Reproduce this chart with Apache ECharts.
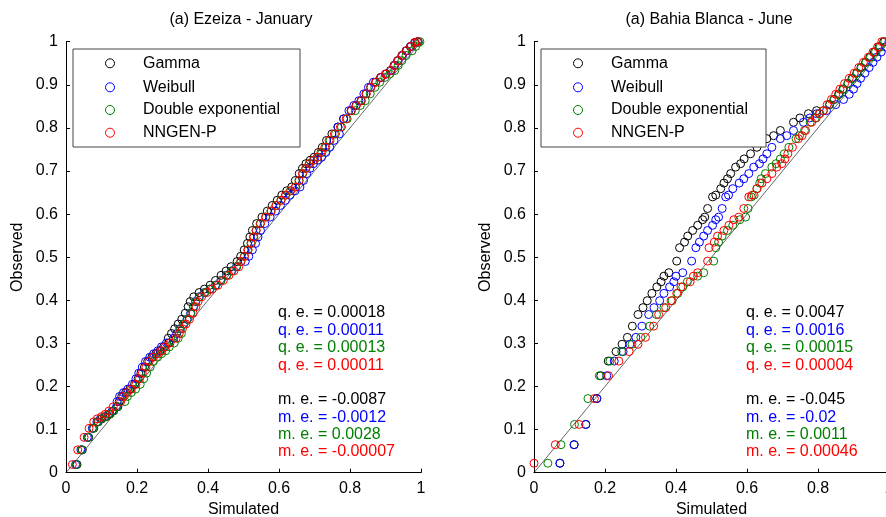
<!DOCTYPE html>
<html><head><meta charset="utf-8">
<script src="https://cdn.jsdelivr.net/npm/echarts@6/dist/echarts.min.js"></script>
<style>html,body{margin:0;padding:0;background:#fff}#c{width:886px;height:517px}</style>
</head><body><div id="c"></div>
<script>
const seriesNames = ['Gamma', 'Weibull', 'Double exponential', 'NNGEN-P'];
const seriesColors = ['#000000', '#0000ff', '#008000', '#ff0000'];
const panelTitles = ['(a) Ezeiza - January', '(a) Bahia Blanca - June'];
const xTickLabels = ['0', '0.2', '0.4', '0.6', '0.8', '1'];
const yTickLabels = ['0', '0.1', '0.2', '0.3', '0.4', '0.5', '0.6', '0.7', '0.8', '0.9', '1'];

// Panel 1: Ezeiza - January (observed quantiles shared, simulated per model)
const ezeizaObserved = [0.019,0.053,0.082,0.103,0.118,0.125,0.130,0.136,0.143,0.153,0.165,0.177,0.186,0.194,0.205,0.218,0.231,0.245,0.258,0.268,0.276,0.283,0.292,0.301,0.312,0.323,0.334,0.345,0.356,0.370,0.385,0.397,0.408,0.418,0.426,0.435,0.446,0.458,0.468,0.478,0.490,0.502,0.517,0.532,0.547,0.562,0.578,0.593,0.607,0.620,0.632,0.644,0.654,0.663,0.678,0.694,0.706,0.717,0.725,0.732,0.743,0.755,0.771,0.786,0.802,0.821,0.840,0.852,0.863,0.879,0.894,0.906,0.917,0.925,0.933,0.945,0.956,0.968,0.979,0.989,0.998,1.000];
const ezeizaGamma = [0.031,0.046,0.064,0.078,0.091,0.101,0.113,0.124,0.134,0.146,0.150,0.157,0.168,0.180,0.193,0.203,0.211,0.221,0.230,0.242,0.253,0.265,0.275,0.289,0.288,0.297,0.306,0.316,0.326,0.336,0.344,0.350,0.360,0.375,0.390,0.406,0.421,0.437,0.451,0.465,0.482,0.492,0.502,0.511,0.518,0.525,0.537,0.552,0.567,0.581,0.595,0.608,0.622,0.636,0.646,0.657,0.666,0.676,0.688,0.699,0.711,0.722,0.734,0.749,0.766,0.782,0.803,0.817,0.831,0.845,0.858,0.872,0.886,0.900,0.914,0.924,0.934,0.946,0.958,0.970,0.982,0.990];
const ezeizaWeibull = [0.027,0.042,0.060,0.074,0.087,0.097,0.109,0.120,0.130,0.142,0.144,0.151,0.162,0.174,0.187,0.197,0.205,0.215,0.224,0.236,0.247,0.259,0.269,0.283,0.303,0.312,0.321,0.331,0.341,0.351,0.359,0.365,0.375,0.390,0.405,0.421,0.436,0.452,0.466,0.480,0.505,0.515,0.525,0.534,0.541,0.548,0.560,0.575,0.590,0.604,0.618,0.631,0.645,0.659,0.669,0.678,0.687,0.697,0.709,0.720,0.732,0.743,0.755,0.770,0.766,0.782,0.797,0.811,0.825,0.839,0.852,0.866,0.888,0.902,0.916,0.926,0.936,0.948,0.960,0.972,0.984,0.992];
const ezeizaDouble = [0.029,0.044,0.062,0.076,0.089,0.099,0.111,0.122,0.132,0.144,0.166,0.173,0.184,0.196,0.209,0.219,0.227,0.237,0.246,0.258,0.269,0.281,0.291,0.305,0.316,0.325,0.322,0.332,0.342,0.352,0.360,0.366,0.376,0.391,0.406,0.422,0.437,0.453,0.467,0.481,0.492,0.502,0.512,0.521,0.528,0.535,0.547,0.562,0.577,0.591,0.605,0.618,0.632,0.646,0.656,0.667,0.676,0.686,0.698,0.709,0.721,0.732,0.744,0.759,0.776,0.792,0.815,0.829,0.843,0.857,0.870,0.884,0.898,0.912,0.926,0.936,0.946,0.958,0.975,0.985,0.993,0.997];
const ezeizaNngen = [0.018,0.033,0.051,0.065,0.078,0.088,0.100,0.111,0.121,0.133,0.154,0.161,0.172,0.184,0.197,0.207,0.215,0.225,0.234,0.246,0.257,0.269,0.279,0.293,0.310,0.319,0.328,0.338,0.348,0.358,0.366,0.372,0.382,0.397,0.412,0.428,0.443,0.459,0.473,0.487,0.493,0.503,0.513,0.522,0.529,0.536,0.548,0.563,0.578,0.592,0.606,0.619,0.633,0.647,0.657,0.666,0.675,0.685,0.697,0.708,0.718,0.729,0.741,0.756,0.773,0.789,0.804,0.818,0.832,0.846,0.859,0.873,0.887,0.901,0.915,0.925,0.935,0.947,0.959,0.971,0.983,0.991];
const ezeizaQE = ['0.00018', '0.00011', '0.00013', '0.00011'];
const ezeizaME = ['-0.0087', '-0.0012', '0.0028', '-0.00007'];

// Panel 2: Bahia Blanca - June
const bahiaObserved = [0.022,0.065,0.112,0.172,0.225,0.259,0.281,0.298,0.314,0.340,0.367,0.383,0.399,0.416,0.431,0.443,0.456,0.464,0.491,0.522,0.535,0.549,0.562,0.574,0.587,0.593,0.613,0.640,0.644,0.659,0.672,0.682,0.694,0.709,0.717,0.728,0.740,0.755,0.775,0.782,0.794,0.813,0.823,0.833,0.840,0.854,0.866,0.878,0.890,0.903,0.915,0.927,0.940,0.952,0.964,0.976,0.988,1.000];
const bahiaGamma = [0.073,0.113,0.146,0.177,0.188,0.209,0.231,0.248,0.263,0.277,0.293,0.307,0.319,0.332,0.346,0.358,0.366,0.380,0.402,0.410,0.424,0.433,0.447,0.461,0.475,0.481,0.489,0.503,0.512,0.526,0.535,0.545,0.554,0.568,0.582,0.592,0.610,0.628,0.656,0.675,0.694,0.731,0.749,0.773,0.796,0.833,0.845,0.858,0.870,0.884,0.896,0.909,0.921,0.934,0.946,0.959,0.972,0.985];
const bahiaWeibull = [0.073,0.113,0.146,0.177,0.205,0.226,0.251,0.270,0.287,0.304,0.323,0.338,0.354,0.366,0.382,0.394,0.400,0.419,0.444,0.456,0.466,0.478,0.489,0.503,0.512,0.520,0.530,0.540,0.548,0.560,0.578,0.591,0.605,0.619,0.635,0.645,0.656,0.670,0.694,0.712,0.731,0.759,0.777,0.796,0.824,0.850,0.872,0.888,0.900,0.910,0.920,0.932,0.944,0.955,0.966,0.978,0.990,1.000];
const bahiaDouble = [0.039,0.076,0.114,0.152,0.184,0.214,0.247,0.276,0.301,0.326,0.345,0.366,0.389,0.405,0.419,0.432,0.461,0.478,0.506,0.512,0.520,0.530,0.545,0.560,0.580,0.596,0.603,0.612,0.620,0.628,0.636,0.640,0.652,0.670,0.682,0.694,0.705,0.718,0.738,0.748,0.762,0.778,0.792,0.803,0.815,0.832,0.846,0.860,0.872,0.885,0.898,0.910,0.922,0.935,0.948,0.962,0.975,0.988];
const bahiaNngen = [0.000,0.060,0.127,0.170,0.210,0.239,0.268,0.293,0.314,0.337,0.351,0.371,0.386,0.402,0.414,0.440,0.449,0.461,0.489,0.493,0.508,0.517,0.535,0.549,0.563,0.577,0.591,0.605,0.615,0.628,0.642,0.656,0.670,0.684,0.698,0.707,0.715,0.728,0.745,0.755,0.765,0.782,0.795,0.805,0.815,0.826,0.838,0.850,0.862,0.875,0.888,0.902,0.915,0.928,0.942,0.955,0.968,0.980];
const bahiaQE = ['0.0047', '0.0016', '0.00015', '0.00004'];
const bahiaME = ['-0.045', '-0.02', '0.0011', '0.00046'];

const FONT = '"Liberation Sans", Arial, Helvetica, sans-serif';
const panels = [
  { left: 66, obs: ezeizaObserved, sims: [ezeizaGamma, ezeizaWeibull, ezeizaDouble, ezeizaNngen], qe: ezeizaQE, me: ezeizaME, textX: 278 },
  { left: 534, obs: bahiaObserved, sims: [bahiaGamma, bahiaWeibull, bahiaDouble, bahiaNngen], qe: bahiaQE, me: bahiaME, textX: 746 }
];
const GRID_TOP = 41.7, GRID_W = 355, GRID_H = 431;

const chart = echarts.init(document.getElementById('c'), null, { renderer: 'canvas' });
const grid = [], xAxis = [], yAxis = [], series = [], graphic = [];

panels.forEach((p, i) => {
  grid.push({ left: p.left, top: GRID_TOP, width: GRID_W, height: GRID_H, containLabel: false, outerBoundsMode: 'none' });
  const labelStyle = { color: '#000', fontSize: 16, fontFamily: FONT };
  xAxis.push({
    gridIndex: i, type: 'value', min: 0, max: 1, interval: 0.2,
    axisLine: { show: true, onZero: false, lineStyle: { color: '#000', width: 1 } },
    axisTick: { inside: true, length: 4, lineStyle: { color: '#000' } },
    axisLabel: Object.assign({ margin: 8, hideOverlap: false, formatter: v => xTickLabels[Math.round(v * 5)] }, labelStyle),
    splitLine: { show: false },
    name: 'Simulated', nameLocation: 'middle', nameGap: 27, nameTextStyle: labelStyle
  });
  yAxis.push({
    gridIndex: i, type: 'value', min: 0, max: 1, interval: 0.1,
    axisLine: { show: true, onZero: false, lineStyle: { color: '#000', width: 1 } },
    axisTick: { inside: true, length: 4, lineStyle: { color: '#000' } },
    axisLabel: Object.assign({ margin: 8, formatter: v => yTickLabels[Math.round(v * 10)] }, labelStyle),
    splitLine: { show: false },
    name: 'Observed', nameLocation: 'middle', nameGap: 40, nameRotate: 90, nameTextStyle: labelStyle
  });
  series.push({
    type: 'line', name: 'diag' + i, xAxisIndex: i, yAxisIndex: i,
    data: [[0, 0], [1, 1]], symbol: 'none', silent: true,
    lineStyle: { color: '#000', width: 0.6 }, z: 1
  });
  p.sims.forEach((sim, k) => {
    series.push({
      type: 'scatter', name: seriesNames[k], xAxisIndex: i, yAxisIndex: i,
      data: sim.map((x, j) => [x, p.obs[j]]),
      symbol: 'circle', symbolSize: 8, clip: false, silent: true,
      itemStyle: { color: 'rgba(255,255,255,0)', borderColor: seriesColors[k], borderWidth: 1, opacity: 1 },
      z: 2
    });
  });
  // legend box
  const lx = p.left + 7, ly = 49, lw = (i === 0 ? 227 : 225), lh = 98;
  graphic.push({ type: 'rect', z: 10, shape: { x: lx, y: ly, width: lw, height: lh }, style: { fill: '#fff', stroke: '#444', lineWidth: 1 } });
  const rowY = [63.3, 87.3, 110, 132.7];
  seriesNames.forEach((n, k) => {
    graphic.push({ type: 'circle', z: 11, shape: { cx: lx + 37, cy: rowY[k], r: 4.5 }, style: { fill: 'none', stroke: seriesColors[k], lineWidth: 1 } });
    graphic.push({ type: 'text', z: 11, x: lx + 70, y: rowY[k], style: { text: n, fill: '#000', font: '16px ' + FONT, align: 'left', verticalAlign: 'middle' } });
  });
  graphic.push({
    type: 'text', x: p.left + 175, y: 20,
    style: { text: panelTitles[i], fill: '#000', font: '16px ' + FONT, align: 'center', verticalAlign: 'middle' }
  });
  const qeY = [313, 331, 348, 366], meY = [400, 418, 435, 452];
  for (let k = 0; k < 4; k++) {
    graphic.push({ type: 'text', x: p.textX, y: qeY[k], style: { text: 'q. e. = ' + p.qe[k], fill: seriesColors[k], font: '16px ' + FONT, align: 'left', verticalAlign: 'middle' } });
    graphic.push({ type: 'text', x: p.textX, y: meY[k], style: { text: 'm. e. = ' + p.me[k], fill: seriesColors[k], font: '16px ' + FONT, align: 'left', verticalAlign: 'middle' } });
  }
});

chart.setOption({ animation: false, backgroundColor: '#fff', grid, xAxis, yAxis, series, graphic });
</script></body></html>
